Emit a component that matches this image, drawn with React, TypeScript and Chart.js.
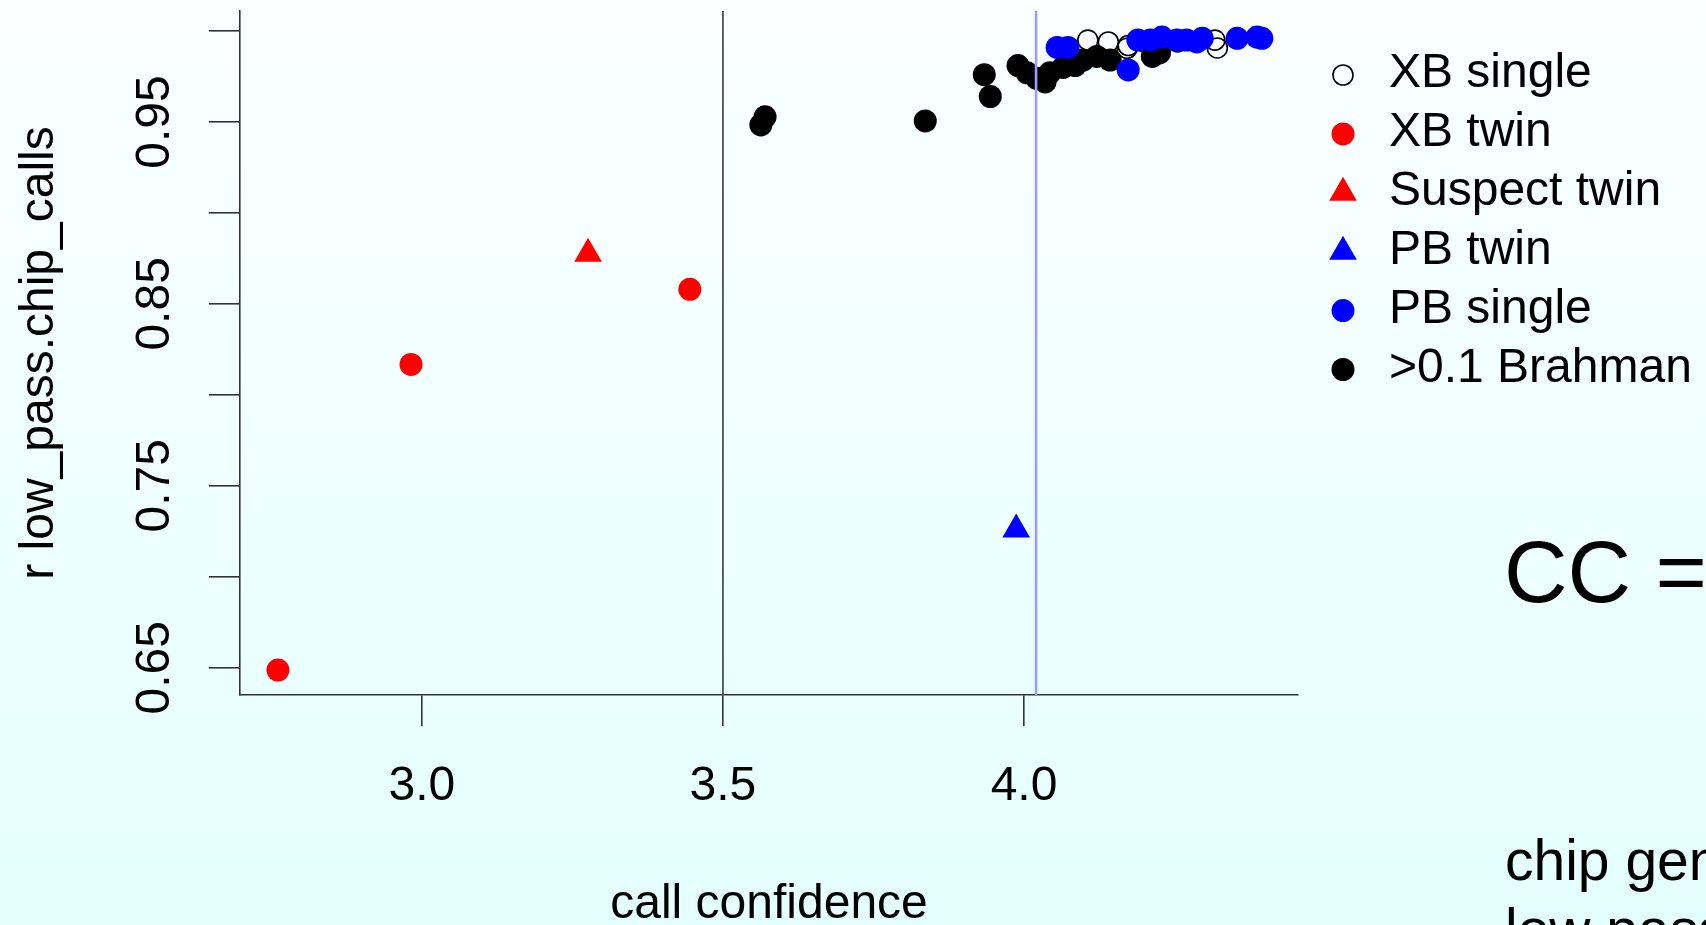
import React, { useEffect, useRef } from 'react';
import { Chart, registerables } from 'chart.js';
import { drawPoint } from 'chart.js/helpers';

Chart.register(...registerables);

// ---- axis setup ----
const X_RANGE = [2.698, 4.455];
const Y_RANGE = [0.635, 1.011];
const X_TICKS = [3.0, 3.5, 4.0];
const Y_TICKS = [0.65, 0.7, 0.75, 0.8, 0.85, 0.9, 0.95, 1.0];
const Y_LABELED = [0.65, 0.75, 0.85, 0.95];
const CUTOFF_LINE = 3.5;
const PB_LINE = 4.02;

// ---- series [call confidence, r] ----
const XB_SINGLE = [
  [4.106, 0.995], [4.14, 0.994], [4.173, 0.992], [4.171, 0.9905],
  [4.2, 0.994], [4.255, 0.994], [4.317, 0.995], [4.321, 0.9907],
];
const XB_TWIN = [[2.761, 0.6487], [2.982, 0.8167], [3.445, 0.858]];
const SUSPECT_TWIN = [[3.276, 0.8775]];
const PB_TWIN = [[3.987, 0.726]];
const PB_SINGLE = [
  [4.055, 0.991], [4.073, 0.991], [4.173, 0.9786], [4.189, 0.995],
  [4.21, 0.995], [4.229, 0.9967], [4.254, 0.995], [4.27, 0.995],
  [4.287, 0.994], [4.296, 0.996], [4.354, 0.996], [4.387, 0.9967], [4.395, 0.996],
];
const BRAHMAN = [
  [3.563, 0.9484], [3.57, 0.9528], [3.836, 0.9506], [3.934, 0.976], [3.944, 0.964],
  [3.99, 0.981], [4.005, 0.977], [4.021, 0.974], [4.035, 0.972], [4.043, 0.977],
  [4.065, 0.98], [4.085, 0.981], [4.098, 0.984], [4.121, 0.986], [4.143, 0.984],
  [4.213, 0.986], [4.225, 0.988],
];

const SERIES_NAMES = ['XB single', 'XB twin', 'Suspect twin', 'PB twin', 'PB single', '>0.1 Brahman'];

const FONT = '"Liberation Sans", Arial, Helvetica, sans-serif';

const toPts = (arr: number[][]) => arr.map(([x, y]) => ({ x, y }));

export default function App() {
  const ref = useRef<HTMLCanvasElement>(null);

  useEffect(() => {
    const canvas = ref.current;
    if (!canvas) return;
    Chart.defaults.font.family = FONT;

    const datasets: any[] = [
      { label: SERIES_NAMES[0], data: toPts(XB_SINGLE), pointStyle: 'circle', pointRadius: 10, backgroundColor: 'rgba(0,0,0,0)', borderColor: '#000', pointBorderWidth: 1.6, borderWidth: 1.6, order: 9 },
      { label: SERIES_NAMES[1], data: toPts(XB_TWIN), pointStyle: 'circle', pointRadius: 11.5, backgroundColor: '#ff0000', borderColor: '#ff0000', pointBorderWidth: 0, borderWidth: 0, order: 3 },
      { label: SERIES_NAMES[2], data: toPts(SUSPECT_TWIN), pointStyle: 'triangle', pointRadius: 16, backgroundColor: '#ff0000', borderColor: '#ff0000', pointBorderWidth: 0, borderWidth: 0, order: 2 },
      { label: SERIES_NAMES[3], data: toPts(PB_TWIN), pointStyle: 'triangle', pointRadius: 16, backgroundColor: '#0000ff', borderColor: '#0000ff', pointBorderWidth: 0, borderWidth: 0, order: 1 },
      { label: SERIES_NAMES[4], data: toPts(PB_SINGLE), pointStyle: 'circle', pointRadius: 11.5, backgroundColor: '#0000ff', borderColor: '#0000ff', pointBorderWidth: 0, borderWidth: 0, order: 8 },
      { label: SERIES_NAMES[5], data: toPts(BRAHMAN), pointStyle: 'circle', pointRadius: 11.5, backgroundColor: '#000000', borderColor: '#000000', pointBorderWidth: 0, borderWidth: 0, order: 10 },
    ];

    const bgPlugin = {
      id: 'bgGradient',
      beforeDraw(chart: any) {
        const { ctx, width, height } = chart;
        const g = ctx.createLinearGradient(0, 0, 0, height);
        g.addColorStop(0, '#fbffff');
        g.addColorStop(1, '#e4ffff');
        ctx.save();
        ctx.fillStyle = g;
        ctx.fillRect(0, 0, width, height);
        ctx.restore();
      },
    };

    const vlinePlugin = {
      id: 'vlines',
      afterDatasetsDraw(chart: any) {
        const { ctx, chartArea, scales } = chart;
        const draw = (v: number, color: string, w: number) => {
          const px = scales.x.getPixelForValue(v);
          ctx.save();
          ctx.strokeStyle = color;
          ctx.lineWidth = w;
          ctx.beginPath();
          ctx.moveTo(px, chartArea.top);
          ctx.lineTo(px, chartArea.bottom);
          ctx.stroke();
          ctx.restore();
        };
        draw(CUTOFF_LINE, '#3a3a3a', 1.6);
        draw(PB_LINE, '#9c9cff', 2.6);
      },
    };

    const legendPlugin = {
      id: 'rLegend',
      afterDraw(chart: any) {
        const { ctx } = chart;
        const markerX = 1343;
        const textX = 1389;
        const top = 75;
        const step = 58.9;
        ctx.save();
        chart.data.datasets.forEach((ds: any, i: number) => {
          const y = top + i * step;
          ctx.fillStyle = ds.backgroundColor;
          ctx.strokeStyle = ds.borderColor;
          ctx.lineWidth = ds.pointBorderWidth;
          drawPoint(ctx, { pointStyle: ds.pointStyle, radius: ds.pointRadius, rotation: 0, borderWidth: ds.pointBorderWidth } as any, markerX, y);
          ctx.fillStyle = '#000';
          ctx.font = `48px ${FONT}`;
          ctx.textAlign = 'left';
          ctx.textBaseline = 'middle';
          ctx.fillText(ds.label, textX, y - 1);
        });
        // slide text beside the chart
        ctx.textBaseline = 'alphabetic';
        ctx.font = `88px ${FONT}`;
        ctx.fillText('CC =', 1504, 602);
        ctx.font = `57px ${FONT}`;
        ctx.fillText('chip genotypes', 1505, 880);
        ctx.fillText('low pass', 1505, 949);
        ctx.restore();
      },
    };

    const axisCommon = {
      grid: { drawOnChartArea: false, drawTicks: true, tickLength: 31, color: '#333', lineWidth: 1.6 },
      border: { display: true, color: '#333', width: 1.6 },
    };

    const chart = new Chart(canvas, {
      type: 'scatter',
      data: { datasets },
      options: {
        animation: false,
        responsive: false,
        devicePixelRatio: 1,
        events: [],
        layout: { autoPadding: false, padding: { left: 0, right: 408, top: 11, bottom: 0 } },
        plugins: { legend: { display: false }, tooltip: { enabled: false } },
        scales: {
          x: {
            type: 'linear',
            min: X_RANGE[0],
            max: X_RANGE[1],
            afterBuildTicks: (s: any) => { s.ticks = X_TICKS.map((v) => ({ value: v })); },
            afterFit: (s: any) => { s.height = 230; s.paddingLeft = 0; s.paddingRight = 0; },
            ticks: {
              autoSkip: false, minRotation: 0, maxRotation: 0, padding: 37, color: '#000',
              font: { size: 48, lineHeight: 1 },
              callback: (v: any) => Number(v).toFixed(1),
            },
            ...axisCommon,
            title: { display: true, text: 'call confidence', color: '#000', font: { size: 48, lineHeight: 0.8 }, padding: { top: 0, bottom: 1 } },
          },
          y: {
            type: 'linear',
            min: Y_RANGE[0],
            max: Y_RANGE[1],
            afterBuildTicks: (s: any) => { s.ticks = Y_TICKS.map((v) => ({ value: v })); },
            afterFit: (s: any) => { s.width = 240; s.paddingTop = 0; s.paddingBottom = 0; },
            ticks: {
              autoSkip: false, minRotation: 90, maxRotation: 90, crossAlign: 'center', padding: 7, color: '#000',
              font: { size: 48, lineHeight: 1 },
              callback: (v: any) => (Y_LABELED.some((l) => Math.abs(l - Number(v)) < 1e-6) ? Number(v).toFixed(2) : ''),
            },
            ...axisCommon,
            title: { display: true, text: 'r low_pass.chip_calls', color: '#000', font: { size: 48, lineHeight: 1 }, padding: { top: 16, bottom: 0 } },
          },
        },
      } as any,
      plugins: [bgPlugin, vlinePlugin, legendPlugin],
    });

    return () => chart.destroy();
  }, []);

  return (
    <div style={{ position: 'fixed', left: 0, top: 0, width: 1706, height: 925, overflow: 'hidden' }}>
      <canvas ref={ref} width={1706} height={925} style={{ display: 'block', width: 1706, height: 925 }} />
    </div>
  );
}
